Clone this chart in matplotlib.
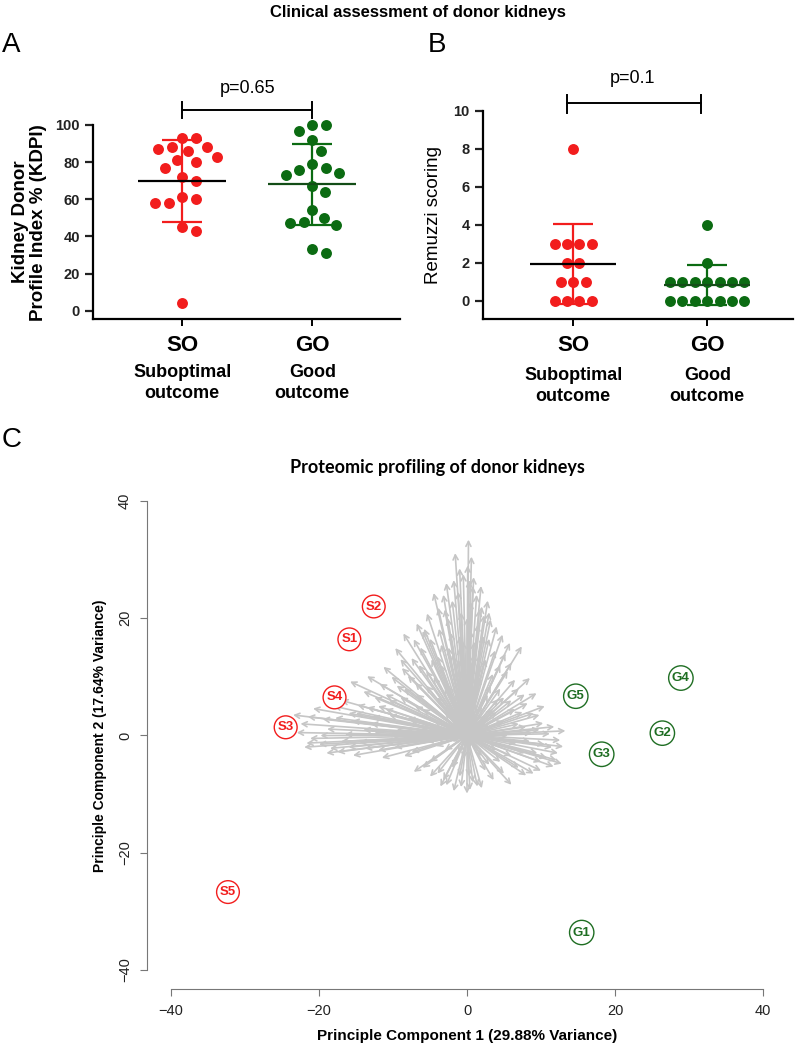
import numpy as np
import matplotlib
matplotlib.use("Agg")
import matplotlib.pyplot as plt

plt.rcParams['font.family'] = ['Liberation Sans', 'DejaVu Sans']

# ---- data ----
groups = ["SO", "GO"]
group_names = ["Suboptimal\noutcome", "Good\noutcome"]

kdpi_so = [93, 93, 88, 87, 86, 88, 83, 81, 80, 77, 72, 70, 60, 58, 58, 61, 45, 43, 4]
kdpi_go = [100, 100, 97, 92, 86, 79, 77, 76, 74, 73, 67, 64, 54, 50, 47, 46, 48, 31, 33]

remuzzi_so = [8, 3, 3, 3, 3, 2, 2, 1, 1, 1, 0, 0, 0, 0]
remuzzi_go = [4, 2, 1, 1, 1, 1, 1, 1, 1, 0, 0, 0, 0, 0, 0, 0]

p_kdpi = "p=0.65"
p_remuzzi = "p=0.1"

# PCA sample scores
sample_labels = ["S1", "S2", "S3", "S4", "S5", "G1", "G2", "G3", "G4", "G5"]
pc1_scores = [-15.9, -12.6, -24.5, -17.9, -32.3, 15.5, 26.4, 18.2, 28.9, 14.7]
pc2_scores = [16.4, 22.0, 1.4, 6.5, -26.7, -33.6, 0.4, -3.2, 9.8, 6.7]

# protein loadings (arrow tips)
load_pc1 = [0.2, -1.6, 0.1, 0.3, -0.5, 0.8, 1.3, -1.2, -2.0, 2.0, 2.3, -3.2, -4.5, -5.4,
            -6.8, -8.6, -9.7, -11.3, -13.5, -15.8, 4.0, 7.4, 3.2, 1.7, 0.5, -0.8, -2.6,
            -3.8, -5.0, -6.3, -7.5, -8.8, -10.2, 5.2, 6.0, 8.5, 9.4, 9.0, 10.3, 11.2, 12.6,
            13.0, 12.1, 11.7, 6.7, 6.0, 3.6, 1.4, 0.4, 0.0, -3.6, -3.2, -7.2, -15.4, -18.5,
            -21.7, -21.2, -18.9, -23.5, -20.8, -17.0, -14.0, -12.0, -13.0, -16.5, -14.5,
            -12.0, -10.5, -9.0, -7.0, -5.5, -4.0, -2.5, -1.0, 1.0, 2.5, 3.5, 4.5, 6.0, 7.5,
            8.0, 8.5, 9.5, 10.0, 7.0, 5.0, 2.5, -1.0, -2.0, -5.0, -8.5, -11.0, -9.5, -7.5,
            -6.0, -4.0, -2.5, -1.5, 0.5, 1.8, 2.8, 3.5, 5.0, 5.5, 4.0, 2.0, -0.5, -3.0, -5.5,
            -6.5, -4.5, -3.0, -1.5, 0.0, 1.0, 2.0, -1.0, -2.0, 0.5, -8.0, -17.5, -19.8,
            -22.5, -16.0, -11.8, -9.0, -6.0, -3.0, -1.8, 0.6, 1.5, 3.0, 5.5, 7.0, 10.5, 11.5,
            9.0, -1.8, 0.8, -5.0,
            0.0, 0.5, -0.5, 1.0, -1.2, 0.3, 1.5, -0.8, 2.2, -2.2, 3.8, -3.5, 4.5, -4.8, 2.8,
            -1.0, 0.9, -2.8, 1.9, 3.0, -3.9, 4.8, 5.8, -5.8, -7.2, 6.5, -6.5, -8.0, -9.5,
            -11.0, -12.5, -14.8, -15.5, -17.8, -19.5, -20.0, -17.0, -13.8, -11.5, -9.8, -7.5,
            -6.0, -4.0, -2.8, -0.8, 2.0, 3.0, 4.5, 6.0, 7.8, 8.0, 10.5, 9.8, 11.8, 12.3, 10.8,
            8.8, 7.0, 6.5, 8.2, 9.8, 7.8, 5.0, 4.0, 3.0, 2.5, 1.0, -0.5, -2.0, -3.5, -5.0,
            -6.0, -7.0, -8.0, -9.0, -10.0, -12.5, -14.0, -15.0, -13.5, -11.0, -10.5, -8.5,
            -6.8, -5.5, -4.5, -3.5, -2.0, -1.0, 1.8, 3.2, 4.2, 2.0, -1.5, -3.0, -16.0, -19.0,
            -22.0, -23.0, -18.0, -21.5, -12.8, 13.3, 12.8, 10.0, 0.3, -1.2, 1.5, -4.2]
load_pc2 = [33.4, 31.1, 29.0, 26.5, 27.5, 25.5, 24.0, 24.5, 23.0, 22.0, 20.5, 24.0, 24.3,
            20.8, 19.1, 17.4, 14.9, 11.7, 10.1, 9.2, 18.6, 15.2, 19.8, 21.5, 22.8, 21.0,
            20.0, 18.2, 16.5, 15.0, 13.2, 11.5, 10.0, 14.0, 12.4, 9.8, 7.2, 3.8, 2.1, 0.3,
            -0.8, -1.9, -4.2, -5.3, -1.3, -8.4, -7.6, -8.7, -9.3, -9.9, -8.7, -7.6, -6.2,
            -3.4, -2.2, -1.3, -0.5, 1.1, 3.5, 4.6, 6.0, 7.5, 5.0, 2.0, 0.2, -1.2, -2.5, 3.5,
            6.5, 9.0, 11.0, 13.5, 15.0, 17.0, 16.0, 13.0, 10.5, 8.0, 6.0, 4.0, 1.5, -1.0,
            -3.0, -4.5, -5.5, -6.5, -6.0, -7.0, -5.5, -4.5, -3.5, -1.0, 1.0, 2.5, 4.5, 6.5,
            8.5, 11.0, 12.5, 10.0, 7.0, 4.5, 2.5, 0.0, -2.5, -3.5, -4.0, -2.5, -1.0, 1.0,
            2.5, 4.0, 5.5, 7.5, 4.0, 1.5, 1.0, -1.0, -2.0, -0.5, -2.8, 0.0, 2.0, 3.8, 8.8,
            13.0, 17.8, 21.5, 26.5, 30.5, 19.0, 16.5, 11.0, 8.0, 5.0, -2.0, -6.5, -9.5,
            -8.0, -7.0,
            20.0, 18.0, 16.0, 14.0, 13.0, 11.0, 9.0, 9.5, 17.0, 17.5, 14.5, 15.5, 12.0, 13.0,
            23.0, 28.5, 27.0, 26.0, 25.5, 21.0, 21.8, 17.2, 15.8, 18.2, 16.4, 9.5, 12.0, 10.2,
            8.5, 7.0, 6.5, 5.2, 2.5, 3.0, 2.8, -1.5, -1.0, -2.2, -3.8, -2.0, -2.8, -5.5, -6.5,
            -8.5, -8.8, -9.0, -5.0, -4.5, -3.5, -3.0, -6.8, -1.5, 1.0, 1.5, -3.0, -3.8, 0.5,
            2.0, 4.5, 5.5, 3.5, 7.0, 6.5, 4.0, 2.0, 3.5, 6.0, 4.5, 3.0, 1.0, 0.5, 2.0, 5.0,
            3.0, 0.0, -0.5, 0.5, 1.0, 3.8, 4.8, 4.5, 6.0, 8.0, 7.0, 8.5, 10.0, 12.0, 13.8,
            15.0, 12.0, 8.5, 6.2, 5.0, 7.0, 8.0, -2.0, -3.0, -2.0, 0.5, 5.0, 3.2, 3.2, 0.8,
            -4.8, -6.0, -7.0, -3.0, -1.0, -1.8]

RED = "#f21d1d"
GREEN = "#0b6b12"
DKGREEN = "#134d17"

W, H = 800, 1044
fig = plt.figure(figsize=(W / 100, H / 100), dpi=100)


def box(l, t, r, b):
    return [l / W, 1 - b / H, (r - l) / W, (b - t) / H]


def swarm(vals, ppx, ppy, d):
    vals = np.asarray(vals, float)
    offs = np.zeros(len(vals))
    placed = []
    cands = [0.0]
    for k in range(1, 120):
        cands += [k * 0.5, -k * 0.5]
    for i in np.argsort(-vals, kind="stable"):
        y = vals[i] * ppy
        for c in cands:
            if all((c - px) ** 2 + (y - py) ** 2 >= d * d for px, py in placed):
                offs[i] = c
                placed.append((c, y))
                break
    return offs / ppx


def rows(vals, ppx, gap):
    vals = np.asarray(vals, float)
    offs = np.zeros(len(vals))
    for v in np.unique(vals):
        idx = np.where(vals == v)[0]
        n = len(idx)
        offs[idx] = (np.arange(n) - (n - 1) / 2) * gap / ppx
    return offs


def dot_panel(ax, data, offsets, colors, meancols, half, cap):
    for i, (v, o) in enumerate(zip(data, offsets)):
        ax.scatter(i + o, v, s=62, color=colors[i], zorder=2, clip_on=False, linewidths=0)
    for i, v in enumerate(data):
        m = np.mean(v)
        sd = np.std(v, ddof=1)
        ax.vlines(i, m - sd, m + sd, color=colors[i], lw=1.6, zorder=3)
        ax.hlines([m - sd, m + sd], i - cap, i + cap, color=colors[i], lw=1.6, zorder=3)
        ax.hlines(m, i - half, i + half, color=meancols[i], lw=1.6, zorder=3)
    for s in ["top", "right"]:
        ax.spines[s].set_visible(False)
    for s in ["left", "bottom"]:
        ax.spines[s].set_linewidth(1.6)
    ax.tick_params(axis="y", length=6, width=1.6, labelsize=10.5, colors="#222222")
    ax.tick_params(axis="x", length=5, width=1.4, pad=6)
    ax.set_xticks([0, 1])
    ax.set_xticklabels(groups, fontsize=16, fontweight="bold")
    for lab in ax.get_yticklabels():
        lab.set_fontweight("bold")


# ---- panel A ----
axA = fig.add_axes(box(93, 125, 400, 319.3))
axA.set_xlim(-0.687, 1.675)
axA.set_ylim(-4.6, 100)
axA.set_yticks(range(0, 101, 20))
offA = [swarm(kdpi_so, 130, 1.857, 14), swarm(kdpi_go, 130, 1.857, 14)]
dot_panel(axA, [kdpi_so, kdpi_go], offA, [RED, GREEN], ["black", DKGREEN], 0.338, 0.154)
axA.set_ylabel("Kidney Donor\nProfile Index % (KDPI)", fontsize=13.5, fontweight="bold",
               labelpad=6, linespacing=1.1)
axA.plot([0, 0], [103.8, 112.4], color="black", lw=1.4, clip_on=False)
axA.plot([1, 1], [103.8, 112.4], color="black", lw=1.4, clip_on=False)
axA.plot([0, 1], [108.1, 108.1], color="black", lw=1.4, clip_on=False)
axA.text(0.5, 119.9, p_kdpi, ha="center", va="center", fontsize=13)
for i, name in enumerate(group_names):
    axA.text(i, -28.5, name, ha="center", va="top", fontsize=13, fontweight="bold",
             linespacing=1.3)

# ---- panel B ----
axB = fig.add_axes(box(482.7, 110.7, 793, 319.3))
axB.set_xlim(-0.676, 1.640)
axB.set_ylim(-0.98, 10)
axB.set_yticks(range(0, 11, 2))
offB = [rows(remuzzi_so, 134, 12.4), rows(remuzzi_go, 134, 12.4)]
dot_panel(axB, [remuzzi_so, remuzzi_go], offB, [RED, GREEN], ["black", DKGREEN], 0.32, 0.15)
axB.set_ylabel("Remuzzi scoring", fontsize=13.5, labelpad=8)
axB.plot([-0.05, -0.05], [9.88, 10.83], color="black", lw=1.4, clip_on=False)
axB.plot([0.953, 0.953], [9.88, 10.83], color="black", lw=1.4, clip_on=False)
axB.plot([-0.05, 0.953], [10.4, 10.4], color="black", lw=1.4, clip_on=False)
axB.text(0.44, 11.67, p_remuzzi, ha="center", va="center", fontsize=13)
for i, name in enumerate(group_names):
    axB.text(i, -3.5, name, ha="center", va="top", fontsize=13, fontweight="bold",
             linespacing=1.3)

# ---- panel C ----
axC = fig.add_axes(box(147.3, 482.2, 786.7, 988.8))
axC.set_xlim(-43.2, 43.2)
axC.set_ylim(-43.2, 43.2)
for lx, ly in zip(load_pc1, load_pc2):
    axC.annotate("", xy=(lx, ly), xytext=(0, 0),
                 arrowprops=dict(arrowstyle="->,head_length=0.35,head_width=0.18",
                                 color="#c6c6c6", lw=1.2, shrinkA=0, shrinkB=0))
for lab, x, y in zip(sample_labels, pc1_scores, pc2_scores):
    c = RED if lab.startswith("S") else "#1f6e23"
    axC.text(x, y, lab, ha="center", va="center", fontsize=9.5, fontweight="bold", color=c,
             bbox=dict(boxstyle="circle,pad=0.25", fc="white", ec=c, lw=1.0), zorder=5)
for s in ["top", "right"]:
    axC.spines[s].set_visible(False)
for s in ["left", "bottom"]:
    axC.spines[s].set_bounds(-40, 40)
    axC.spines[s].set_color("#777777")
axC.set_xticks(range(-40, 41, 20))
axC.set_yticks(range(-40, 41, 20))
axC.tick_params(length=5, color="#777777", labelsize=10.5, labelcolor="#222222", pad=6)
for lab in axC.get_yticklabels():
    lab.set_rotation(90)
    lab.set_va("center")
axC.set_xlabel("Principle Component 1 (29.88% Variance)", fontsize=11, fontweight="bold",
               labelpad=8)
axC.set_ylabel("Principle Component 2 (17.64% Variance)", fontsize=10, fontweight="bold",
               labelpad=8)

# ---- titles and panel letters ----
narrow = ["Liberation Sans Narrow", "Liberation Sans", "DejaVu Sans"]
fig.text(418 / W, 1 - 13 / H, "Clinical assessment of donor kidneys", ha="center", va="center",
         fontsize=12, fontweight="bold", family=narrow)
fig.text(437 / W, 1 - 468 / H, "Proteomic profiling of donor kidneys", ha="center", va="center",
         fontsize=13, fontweight="bold", family=["Lato", "DejaVu Sans"])
for letter, x, y in [("A", 2, 45), ("B", 428, 45), ("C", 2, 440)]:
    fig.text(x / W, 1 - y / H, letter, ha="left", va="center", fontsize=20,
             family=narrow)

fig.savefig("out.png", dpi=100)
